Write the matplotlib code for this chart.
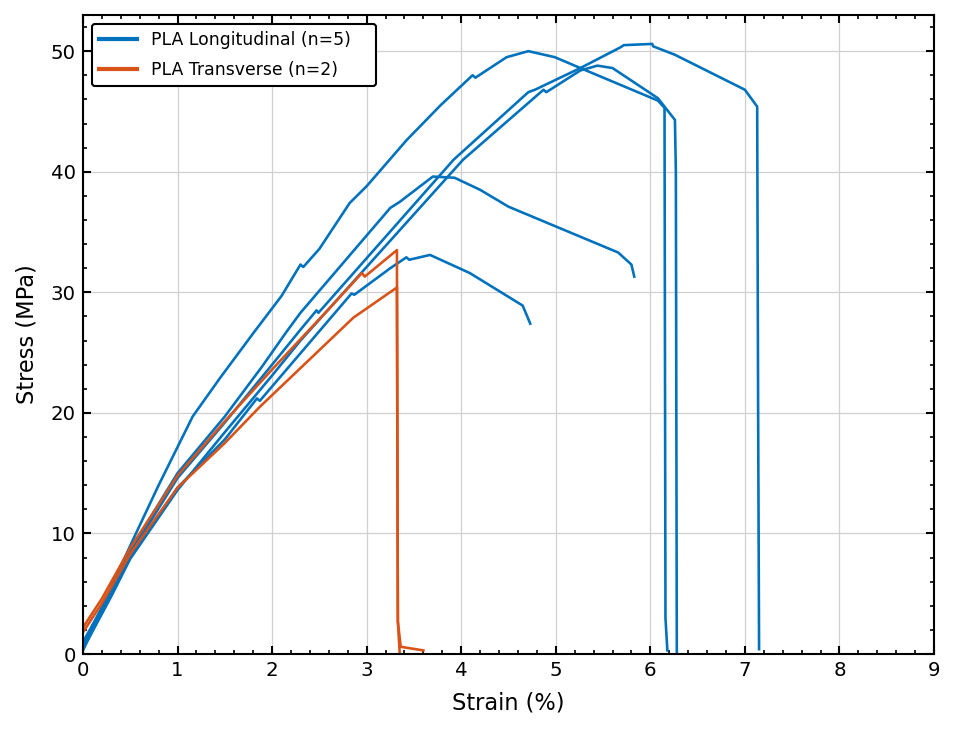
import matplotlib
matplotlib.use("Agg")
import matplotlib.pyplot as plt
from matplotlib.lines import Line2D
from matplotlib.ticker import MultipleLocator

# ---------------- data (strain %, stress MPa) ----------------
long_a_strain = [0, 0.1, 0.3, 0.56, 0.8, 1.16, 1.45, 1.8, 2.1, 2.3, 2.33, 2.5, 2.82, 3.0,
                 3.42, 3.78, 4.12, 4.15, 4.48, 4.71, 4.99, 5.26, 6.08, 6.15, 6.16, 6.18]
long_a_stress = [0.3, 2.0, 5.6, 10.0, 14.0, 19.7, 22.9, 26.6, 29.7, 32.3, 32.1, 33.6, 37.4, 38.8,
                 42.6, 45.5, 48.0, 47.8, 49.5, 50.0, 49.5, 48.6, 45.9, 45.3, 3.0, 0.3]

long_b_strain = [0, 0.3, 0.5, 1.0, 1.5, 2.0, 2.3, 4.02, 4.87, 4.9, 5.26, 5.44, 5.6, 6.08,
                 6.26, 6.27, 6.28]
long_b_stress = [0.4, 4.8, 7.9, 13.6, 18.4, 23.1, 26.0, 41.0, 46.8, 46.6, 48.4, 48.8, 48.6, 46.1,
                 44.3, 40.0, 0.1]

long_c_strain = [0, 0.3, 0.5, 1.0, 1.5, 2.0, 2.3, 2.47, 2.49, 3.92, 4.71, 4.78, 5.26, 5.68,
                 5.72, 6.02, 6.03, 6.26, 7.0, 7.13, 7.14, 7.15]
long_c_stress = [0.5, 5.0, 8.3, 14.6, 19.2, 24.0, 26.9, 28.5, 28.3, 41.0, 46.6, 46.8, 48.6, 50.3,
                 50.5, 50.6, 50.4, 49.7, 46.8, 45.4, 20.0, 0.4]

long_d_strain = [0, 0.3, 0.5, 1.0, 1.5, 1.84, 1.87, 2.84, 2.87, 3.25, 3.42, 3.45, 3.67, 4.09,
                 4.65, 4.73]
long_d_stress = [1.0, 5.2, 8.0, 13.8, 17.8, 21.2, 21.0, 29.9, 29.8, 32.0, 32.9, 32.7, 33.1, 31.6,
                 28.9, 27.4]

long_e_strain = [0, 0.3, 0.5, 1.0, 1.5, 1.89, 2.15, 2.3, 3.25, 3.35, 3.7, 3.93, 4.2, 4.5,
                 5.66, 5.8, 5.83]
long_e_stress = [0.8, 5.4, 8.6, 15.0, 19.7, 23.8, 26.7, 28.3, 37.0, 37.5, 39.6, 39.5, 38.5, 37.1,
                 33.3, 32.3, 31.3]

trans_a_strain = [0, 0.2, 0.5, 1.0, 1.5, 2.0, 2.61, 2.95, 2.98, 3.32, 3.33, 3.35]
trans_a_stress = [2.2, 4.6, 8.8, 14.8, 19.3, 23.6, 28.7, 31.6, 31.3, 33.5, 2.7, 0.0]

trans_b_strain = [0, 0.2, 0.5, 1.0, 1.5, 1.87, 2.86, 3.32, 3.33, 3.36, 3.6]
trans_b_stress = [1.8, 4.2, 8.3, 13.8, 17.5, 20.5, 27.9, 30.4, 2.7, 0.6, 0.3]

longitudinal = [(long_a_strain, long_a_stress), (long_b_strain, long_b_stress),
                (long_c_strain, long_c_stress), (long_d_strain, long_d_stress),
                (long_e_strain, long_e_stress)]
transverse = [(trans_a_strain, trans_a_stress), (trans_b_strain, trans_b_stress)]

BLUE = "#0072BD"
ORANGE = "#D95319"

plt.rcParams["font.family"] = "DejaVu Sans"

fig = plt.figure(figsize=(956 / 150, 731 / 150), dpi=150)
ax = fig.add_axes([0.0868, 0.1053, 0.977 - 0.0868, 0.9795 - 0.1053])

for s, y in longitudinal:
    ax.plot(s, y, color=BLUE, lw=1.25)
for s, y in transverse:
    ax.plot(s, y, color=ORANGE, lw=1.25)

ax.set_xlim(0, 9)
ax.set_ylim(0, 53)
ax.xaxis.set_major_locator(MultipleLocator(1))
ax.xaxis.set_minor_locator(MultipleLocator(0.2))
ax.yaxis.set_major_locator(MultipleLocator(10))
ax.yaxis.set_minor_locator(MultipleLocator(2))
ax.tick_params(which="both", direction="in", top=True, right=True, labelsize=9.5)
ax.tick_params(which="major", length=4, width=1)
ax.tick_params(which="minor", length=2, width=0.8)
for sp in ax.spines.values():
    sp.set_linewidth(1)

ax.grid(True, which="major", color="#d0d0d0", lw=0.6)
ax.set_axisbelow(True)

ax.set_xlabel("Strain (%)", fontsize=10.8, labelpad=5.5)
ax.set_ylabel("Stress (MPa)", fontsize=10.8, labelpad=6)

handles = [Line2D([], [], color=BLUE, lw=2), Line2D([], [], color=ORANGE, lw=2)]
leg = ax.legend(handles, ["PLA Longitudinal (n=5)", "PLA Transverse (n=2)"],
                loc="upper left", bbox_to_anchor=(0.0106, 0.0, 0.3337, 0.986),
                mode="expand", borderaxespad=0, fontsize=8.3, labelspacing=0.73,
                handlelength=2.2, framealpha=1, edgecolor="black", fancybox=True)
leg.get_frame().set_linewidth(1)

fig.savefig("out.png", dpi=150)
